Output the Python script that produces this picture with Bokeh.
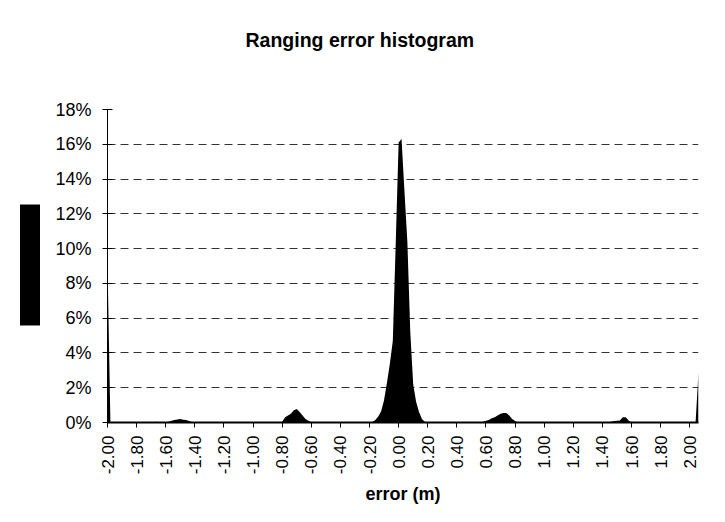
import numpy as np
from bokeh.plotting import figure
from bokeh.layouts import row, column
from bokeh.models import (Range1d, FixedTicker, PrintfTickFormatter, Legend,
                          LegendItem, Title)
from bokeh.embed import file_html
from bokeh.resources import INLINE

# ---- data (percent of samples per 0.02 m error bin) ----
x_start = -2.00
x_step = 0.02
error_pct = [
    9.2, 0, 0, 0, 0, 0, 0, 0, 0, 0,                              # -2.00 .. -1.82
    0, 0, 0, 0, 0, 0, 0, 0.05, 0, 0,                             # -1.80 .. -1.62
    0.02, 0.05, 0.10, 0.14, 0.17, 0.20, 0.16, 0.15, 0.08, 0.03,  # -1.60 .. -1.42
    0, 0, 0, 0, 0, 0, 0, 0, 0, 0,                                # -1.40 .. -1.22
    0, 0, 0, 0, 0, 0, 0, 0, 0, 0,                                # -1.20 .. -1.02
    0, 0, 0, 0, 0, 0, 0, 0, 0, 0,                                # -1.00 .. -0.82
    0.05, 0.30, 0.40, 0.50, 0.70, 0.78, 0.60, 0.40, 0.20, 0.10,  # -0.80 .. -0.62
    0.02, 0, 0, 0, 0, 0, 0, 0, 0, 0,                             # -0.60 .. -0.42
    0, 0, 0, 0, 0, 0, 0, 0, 0, 0,                                # -0.40 .. -0.22
    0, 0.03, 0.15, 0.35, 0.65, 1.3, 2.3, 3.4, 4.7, 10.3,         # -0.20 .. -0.02
    16.1, 16.3, 13.3, 10.4, 5.2, 2.2, 1.2, 0.6, 0.2, 0.05,       #  0.00 ..  0.18
    0, 0, 0, 0, 0, 0, 0, 0, 0, 0,                                #  0.20 ..  0.38
    0, 0, 0, 0, 0, 0, 0, 0, 0, 0.05,                             #  0.40 ..  0.58
    0.10, 0.15, 0.25, 0.30, 0.40, 0.50, 0.55, 0.55, 0.40, 0.20,  #  0.60 ..  0.78
    0.08, 0, 0, 0, 0, 0, 0, 0, 0, 0,                             #  0.80 ..  0.98
    0, 0, 0, 0, 0, 0, 0, 0, 0, 0,                                #  1.00 ..  1.18
    0, 0, 0, 0, 0, 0, 0, 0, 0, 0,                                #  1.20 ..  1.38
    0, 0, 0, 0.05, 0.08, 0.10, 0.12, 0.30, 0.30, 0.12,           #  1.40 ..  1.58
    0, 0, 0, 0, 0, 0, 0, 0, 0, 0,                                #  1.60 ..  1.78
    0, 0, 0, 0, 0, 0, 0, 0, 0, 0,                                #  1.80 ..  1.98
    0, 0, 0, 2.9,                                                #  2.00 ..  2.06
]
categories = np.round(x_start + x_step * np.arange(len(error_pct)), 2)

x_tick_values = [-2.0, -1.8, -1.6, -1.4, -1.2, -1.0, -0.8, -0.6, -0.4, -0.2,
                 0.0, 0.2, 0.4, 0.6, 0.8, 1.0, 1.2, 1.4, 1.6, 1.8, 2.0]
y_tick_values = [0, 2, 4, 6, 8, 10, 12, 14, 16, 18]

title_text = "Ranging error histogram"
x_label = "error (m)"

FONT = "Liberation Sans"
W = 722
H = 520
TITLE_H = 90
LEG_W = 50
BODY_H = H - TITLE_H

# ---- title strip ----
tf = figure(width=W, height=TITLE_H, output_backend="svg", toolbar_location=None,
            min_border=0, x_axis_location=None, y_axis_location=None,
            background_fill_color="white", border_fill_color="white")
tf.outline_line_color = None
tf.xgrid.visible = False
tf.ygrid.visible = False
tf.add_layout(Title(text=title_text, align="left", offset=245,
                    text_font=FONT, text_font_size="19.5px", text_font_style="bold",
                    text_color="black", standoff=53), "above")

# ---- main chart ----
p = figure(width=W - LEG_W, height=BODY_H,
           x_range=Range1d(categories[0], categories[-1]),
           y_range=Range1d(0, 18),
           output_backend="svg", toolbar_location=None,
           min_border_left=107 - LEG_W, min_border_top=109 - TITLE_H,
           min_border_right=24, min_border_bottom=BODY_H - (109 - TITLE_H) - 313,
           background_fill_color="white", border_fill_color="white")
p.outline_line_color = None

r = p.varea(x=categories, y1=0, y2=error_pct, fill_color="black", fill_alpha=1.0)

xa = p.xaxis[0]
xa.ticker = FixedTicker(ticks=x_tick_values, minor_ticks=[])
xa.formatter = PrintfTickFormatter(format="%.2f")
xa.major_label_orientation = np.pi / 2
xa.major_label_text_font = FONT
xa.major_label_text_font_size = "17px"
xa.major_label_text_color = "black"
xa.major_label_standoff = 8
xa.major_tick_in = 0
xa.major_tick_out = 5
xa.major_tick_line_color = "black"
xa.minor_tick_line_color = None
xa.axis_line_color = "black"
xa.axis_line_width = 2
xa.axis_label = x_label
xa.axis_label_text_font = FONT
xa.axis_label_text_font_size = "18px"
xa.axis_label_text_font_style = "bold"
xa.axis_label_text_color = "black"
xa.axis_label_standoff = 7

ya = p.yaxis[0]
ya.ticker = FixedTicker(ticks=y_tick_values, minor_ticks=[])
ya.formatter = PrintfTickFormatter(format="%d%%")
ya.major_label_text_font = FONT
ya.major_label_text_font_size = "18px"
ya.major_label_text_color = "black"
ya.major_label_standoff = 11
ya.major_tick_in = 5
ya.major_tick_out = 5
ya.major_tick_line_color = "black"
ya.minor_tick_line_color = None
ya.axis_line_color = "black"
ya.axis_line_width = 1

p.xgrid.grid_line_color = None
p.ygrid.ticker = FixedTicker(ticks=y_tick_values[1:])
p.ygrid.grid_line_color = "#333333"
p.ygrid.grid_line_dash = "8 5"
p.ygrid.grid_line_width = 1

# ---- legend strip (blank series name, black key) ----
lf = figure(width=LEG_W, height=BODY_H, x_range=Range1d(10, 11), y_range=Range1d(0, 1),
            output_backend="svg", toolbar_location=None, min_border=0,
            x_axis_location=None, y_axis_location=None,
            background_fill_color="white", border_fill_color="white")
lf.outline_line_color = None
lf.xgrid.visible = False
lf.ygrid.visible = False
lr = lf.varea(x=categories, y1=0, y2=error_pct, fill_color="black", fill_alpha=1.0)
leg = Legend(items=[LegendItem(label=" ", renderers=[lr])], location=(17, 82),
             glyph_width=25, glyph_height=151, label_width=0, label_standoff=0,
             label_text_font_size="1px", padding=0, margin=0, spacing=0,
             border_line_alpha=0, background_fill_alpha=0)
lf.add_layout(leg, "center")

layout = column(tf, row(lf, p))
open("out.html", "w").write(file_html(layout, INLINE))
